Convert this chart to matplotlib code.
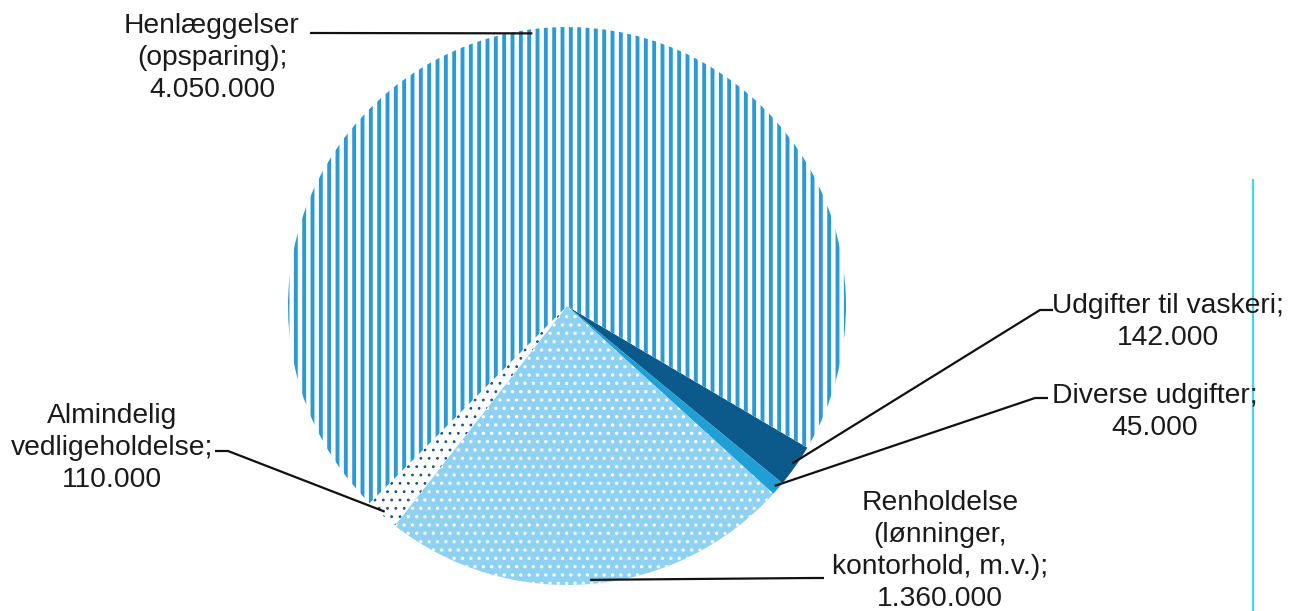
import matplotlib.pyplot as plt
import numpy as np

plt.rcParams['font.family'] = ['Liberation Sans', 'DejaVu Sans']

# slices, clockwise from the vaskeri wedge
names = [
    "Udgifter til vaskeri;",
    "Diverse udgifter;",
    "Renholdelse\n(lønninger,\nkontorhold, m.v.);",
    "Almindelig\nvedligeholdelse;",
    "Henlæggelser\n(opsparing);",
]
values = [142000, 45000, 1360000, 110000, 4050000]
colors = ["#0c5a8c", "#1f9fd4", "#8ed1f1", "#ffffff", "#ffffff"]
hatch_colors = ["#0c5a8c", "#1f9fd4", "#ffffff", "#1d4f86", "#2b9ad4"]
hatches = [None, None, "..", "..", "||"]

# label layout in pixels (y down): text centre, elbow, end of short tick
text_pos = [(1168, 322), (1155, 412), (940, 551), (112, 448), (212, 58)]
elbows = [(1040, 310), (1035, 398), (812, 578), (228, 451), (318, 33)]
ticks = [(1053, 310), (1048, 398), (824, 578), (215, 451), (310, 33)]

W, H = 1299, 611
fig = plt.figure(figsize=(W / 100, H / 100), dpi=100)
ax = fig.add_axes([0, 0, 1, 1])

cx, cy, r = 567, H - 306, 279
wedges, _ = ax.pie(values, center=(cx, cy), radius=r, startangle=-30.5,
                   counterclock=False, colors=colors, frame=True,
                   wedgeprops=dict(linewidth=0))
ax.set_xlim(0, W)
ax.set_ylim(0, H)
ax.set_aspect('equal')
ax.axis('off')

for w, hc, h in zip(wedges, hatch_colors, hatches):
    if h:
        w.set_hatch(h)
        w.set_edgecolor(hc)
        if hasattr(w, 'set_hatch_linewidth'):
            w.set_hatch_linewidth({"||": 2.8}.get(h, 1.2 if hc == "#ffffff" else 0.8))

for w, name, v, tp, el, tk in zip(wedges, names, values, text_pos, elbows, ticks):
    mid = np.deg2rad((w.theta1 + w.theta2) / 2)
    px = cx + r * 0.985 * np.cos(mid)
    py = cy + r * 0.985 * np.sin(mid)
    ax.plot([px, el[0], tk[0]], [py, H - el[1], H - tk[1]],
            color="#111111", lw=1.6, solid_capstyle='butt')
    label = name + "\n" + f"{v:,}".replace(",", ".")
    ax.text(tp[0], H - tp[1], label, ha='center', va='center',
            fontsize=20.3, color="#1a1a1a", linespacing=1.3)

# scan artefact at the right edge
ax.plot([1253, 1253], [0, H - 180], color="#3fd8ea", lw=1.6)

fig.savefig("out.png", dpi=100)
